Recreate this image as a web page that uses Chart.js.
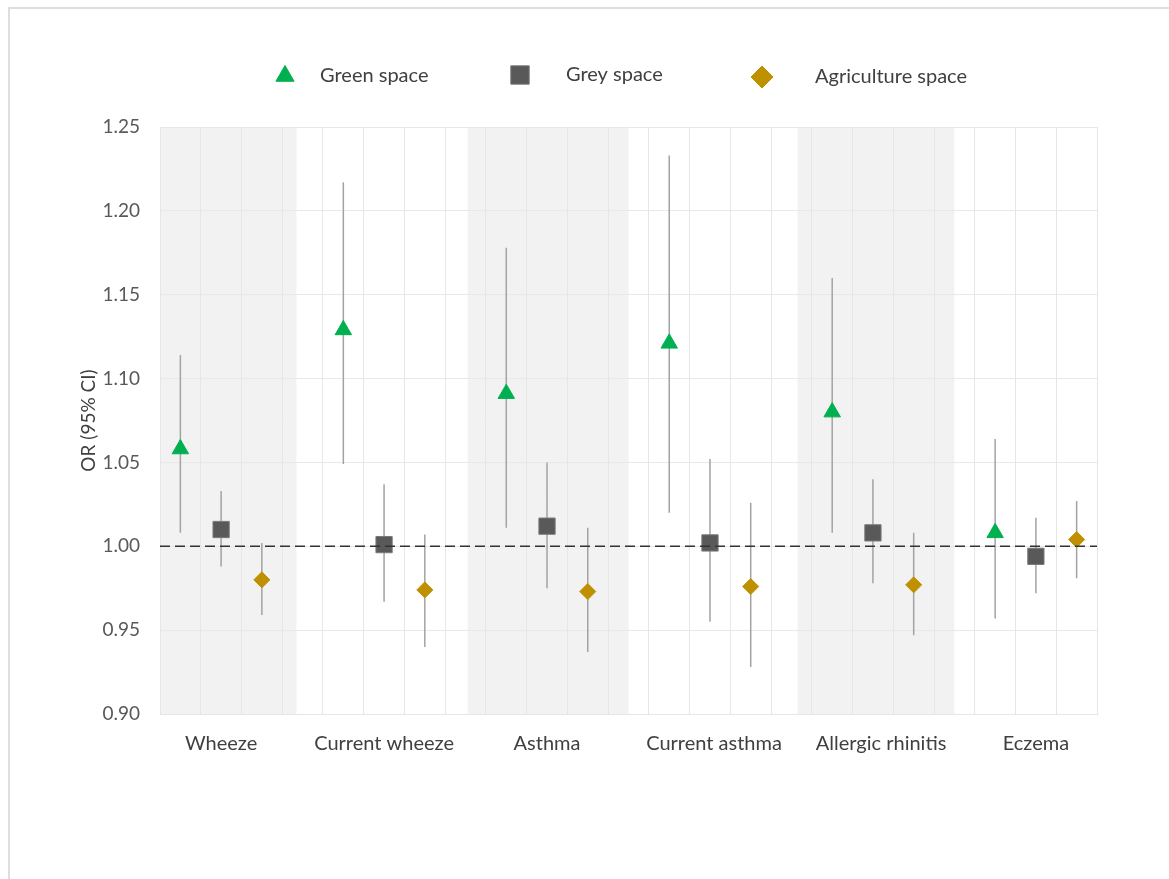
<!DOCTYPE html>
<html>
<head>
<meta charset="utf-8">
<script src="https://cdn.jsdelivr.net/npm/chart.js@4"></script>
<style>
  html, body { margin: 0; padding: 0; background: #fff; overflow: hidden; }
  #frame { position: absolute; left: 8px; top: 7px; width: 1200px; height: 900px; border: 2px solid #dedede; }
  #wrap { position: absolute; left: 0; top: 0; width: 1169px; height: 879px; }
</style>
</head>
<body>
<div id="frame"></div>
<div id="wrap"><canvas id="orChart"></canvas></div>
<script>
const outcomes = ['Wheeze', 'Current wheeze', 'Asthma', 'Current asthma', 'Allergic rhinitis', 'Eczema'];
const seriesNames = ['Green space', 'Grey space', 'Agriculture space'];

// odds ratios and 95% CI
const greenOR   = [1.058, 1.129, 1.091, 1.121, 1.080, 1.008];
const greenLow  = [1.008, 1.049, 1.011, 1.020, 1.008, 0.957];
const greenHigh = [1.114, 1.217, 1.178, 1.233, 1.160, 1.064];

const greyOR   = [1.010, 1.001, 1.012, 1.002, 1.008, 0.994];
const greyLow  = [0.988, 0.967, 0.975, 0.955, 0.978, 0.972];
const greyHigh = [1.033, 1.037, 1.050, 1.052, 1.040, 1.017];

const agriOR   = [0.980, 0.974, 0.973, 0.976, 0.977, 1.004];
const agriLow  = [0.959, 0.940, 0.937, 0.928, 0.947, 0.981];
const agriHigh = [1.002, 1.007, 1.011, 1.026, 1.008, 1.027];

const yTicks = [0.90, 0.95, 1.00, 1.05, 1.10, 1.15, 1.20, 1.25];
const shadedGroups = [[0, 3.35], [7.55, 11.5], [15.65, 19.5]];
const labelCentres = [1.5, 5.5, 9.5, 13.6, 17.7, 21.5];

const series = [
  { name: seriesNames[0], or: greenOR, lo: greenLow, hi: greenHigh, color: '#00b050', edge: '#00b050', style: 'triangle', r: 9.5, keyR: 10.5 },
  { name: seriesNames[1], or: greyOR, lo: greyLow, hi: greyHigh, color: '#595959', edge: '#7a7a7a', style: 'rect', r: 11.5, keyR: 13 },
  { name: seriesNames[2], or: agriOR, lo: agriLow, hi: agriHigh, color: '#bf9000', edge: '#bf9000', style: 'rectRot', r: 8, keyR: 11 }
];

const slotX = (i, s) => i * 4 + s + 0.5;

const whiskers = [];
series.forEach((s, k) => {
  outcomes.forEach((o, i) => {
    whiskers.push({ x: slotX(i, k), y: s.lo[i] });
    whiskers.push({ x: slotX(i, k), y: s.hi[i] });
    whiskers.push({ x: slotX(i, k), y: null });
  });
});

const markerSets = series.map((s, k) => ({
  label: s.name,
  data: s.or.map((v, i) => ({ x: slotX(i, k), y: v })),
  pointStyle: s.style,
  pointRadius: s.r,
  pointHoverRadius: s.r,
  backgroundColor: s.color,
  borderColor: s.edge,
  pointBorderWidth: 1,
  showLine: false,
  order: 1
}));

const bandPlugin = {
  id: 'bands',
  beforeDraw(chart) {
    const { ctx, chartArea } = chart;
    const x = chart.scales.x;
    ctx.save();
    ctx.fillStyle = '#f2f2f2';
    shadedGroups.forEach(([a, b]) => {
      const x0 = x.getPixelForValue(a), x1 = x.getPixelForValue(b);
      ctx.fillRect(x0, chartArea.top, x1 - x0, chartArea.bottom - chartArea.top);
    });
    ctx.restore();
  }
};

const keyPlugin = {
  id: 'keyRow',
  afterDraw(chart) {
    const ctx = chart.ctx;
    const spots = [[285, 76, 320], [520, 75, 566], [762, 77, 815]];
    series.forEach((s, k) => {
      const [mx, my, tx] = spots[k];
      ctx.save();
      ctx.fillStyle = s.color;
      ctx.strokeStyle = s.edge;
      ctx.lineWidth = 1;
      Chart.helpers.drawPoint(ctx, { pointStyle: s.style, radius: s.keyR, rotation: 0, borderWidth: 1 }, mx, my);
      ctx.fillStyle = '#404040';
      ctx.font = '20px Lato';
      ctx.textBaseline = 'middle';
      ctx.fillText(s.name, tx, my);
      ctx.restore();
    });
  }
};

new Chart(document.getElementById('orChart'), {
  type: 'scatter',
  data: {
    datasets: [
      {
        label: 'ref',
        data: [{ x: 0, y: 1 }, { x: 23, y: 1 }],
        showLine: true,
        borderColor: '#333333',
        borderWidth: 1.5,
        borderDash: [10, 5],
        pointRadius: 0,
        order: 0
      },
      ...markerSets,
      {
        label: 'ci',
        data: whiskers,
        showLine: true,
        spanGaps: false,
        borderColor: '#a3a3a3',
        borderWidth: 1.5,
        pointRadius: 0,
        order: 2
      }
    ]
  },
  options: {
    responsive: true,
    maintainAspectRatio: false,
    animation: false,
    events: [],
    layout: { padding: { left: 0, top: 127, right: 72, bottom: 0 } },
    plugins: { legend: { display: false }, tooltip: { enabled: false } },
    scales: {
      x: {
        type: 'linear',
        min: 0,
        max: 23,
        afterBuildTicks: s => {
          const t = [];
          for (let v = 0; v <= 23; v++) t.push(v);
          s.ticks = t.concat(labelCentres).sort((a, b) => a - b).map(v => ({ value: v }));
        },
        afterFit: s => { s.height = 879 - 714; },
        grid: {
          drawTicks: false,
          color: c => (c.tick && Number.isInteger(c.tick.value)) ? '#e6e6e6' : 'rgba(0,0,0,0)'
        },
        border: { color: '#e6e6e6' },
        ticks: {
          autoSkip: false,
          maxRotation: 0,
          minRotation: 0,
          padding: 18,
          color: '#404040',
          font: { family: 'Lato', size: 20 },
          callback: v => {
            const i = labelCentres.indexOf(v);
            return i >= 0 ? outcomes[i] : '';
          }
        }
      },
      y: {
        min: 0.9,
        max: 1.25,
        afterBuildTicks: s => { s.ticks = yTicks.map(v => ({ value: v })); },
        afterFit: s => { s.width = 160; },
        grid: { drawTicks: false, color: '#e8e8e8' },
        border: { display: false },
        ticks: {
          padding: 20,
          color: '#595959',
          font: { family: 'Lato', size: 19 },
          callback: v => v.toFixed(2)
        },
        title: {
          display: true,
          text: 'OR (95% CI)',
          color: '#404040',
          font: { family: 'Lato', size: 19 },
          padding: { top: 77, bottom: 0 }
        }
      }
    }
  },
  plugins: [bandPlugin, keyPlugin]
});
</script>
</body>
</html>
